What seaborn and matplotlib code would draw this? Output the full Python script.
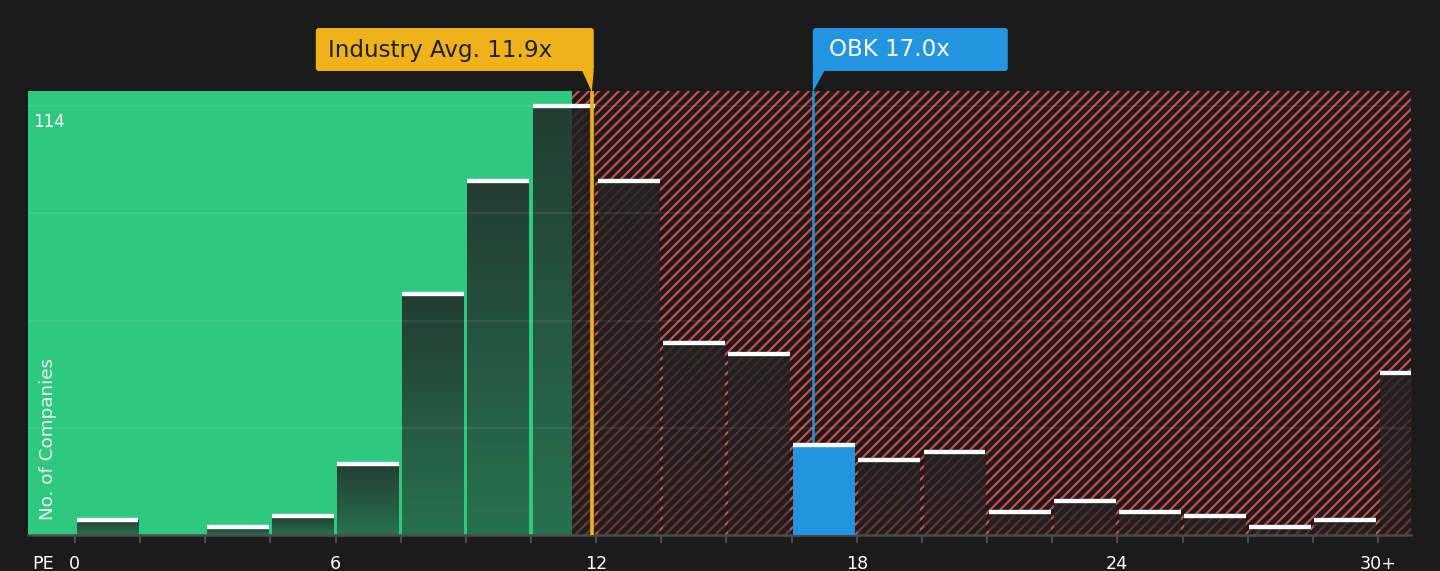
import numpy as np
import pandas as pd
import matplotlib
matplotlib.use("Agg")
import matplotlib.pyplot as plt
import seaborn as sns
from matplotlib.patches import FancyBboxPatch, Polygon
from matplotlib.transforms import IdentityTransform

# ---------------- data ----------------
bin_starts = [0, 1.5, 3, 4.5, 6, 7.5, 9, 10.5, 12, 13.5, 15, 16.5, 18, 19.5,
              21, 22.5, 24, 25.5, 27, 28.5, 30]
bin_edges = [0, 1.5, 3, 4.5, 6, 7.5, 9, 10.5, 12, 13.5, 15, 16.5, 18, 19.5,
             21, 22.5, 24, 25.5, 27, 28.5, 30, 31.5]
counts = [4, 0, 2, 5, 19, 64, 94, 114, 94, 51, 48, 24, 20, 22, 6, 9, 6, 5, 2, 4, 43]
tick_values = [0, 6, 12, 18, 24, 30]
tick_labels = ["0", "6", "12", "18", "24", "30+"]
industry_avg = 11.9
company_pe = 17.0
company_name = "OBK"
y_max_label = 114
green_end = 11.45

# ---------------- style ----------------
BG = "#1b1b1b"
GREEN = "#2ec880"
RED = "#d04b4b"
YELLOW = "#efb21a"
BLUE = "#2394e0"
W, H, DPI = 1440, 571, 120

sns.set_style("dark")
plt.rcParams["font.family"] = ["DejaVu Sans"]
plt.rcParams["hatch.linewidth"] = 1.3

fig = plt.figure(figsize=(W / DPI, H / DPI), dpi=DPI, facecolor=BG)
ax = fig.add_axes([28 / W, 36 / H, 1383 / W, 444 / H])
ax.set_facecolor(BG)
XL = (-1.08, 30.76)
YL = (0, 118)

# background zones
ax.axvspan(XL[0], green_end, facecolor=GREEN, lw=0, zorder=0)
ax.axvspan(green_end, XL[1], facecolor=BG, edgecolor=RED, hatch="////", lw=0, zorder=0)

# histogram bars
df = pd.DataFrame({"pe": [s + 0.75 for s in bin_starts], "count": counts})
n0 = len(ax.patches)
sns.histplot(data=df, x="pe", weights="count", bins=bin_edges, shrink=0.95,
             ax=ax, color="#222422", linewidth=0, alpha=1, zorder=2)
bars = ax.patches[n0:]

comp_idx = max(i for i, s in enumerate(bin_starts) if s <= company_pe)
grad = np.zeros((64, 1, 4))
grad[..., 0] = 0.13
grad[..., 1] = 0.137
grad[..., 2] = 0.13
grad[:, 0, 3] = np.linspace(0.84, 0.52, 64)

for i, (p, c) in enumerate(zip(bars, counts)):
    if c == 0:
        continue
    x, w, h = p.get_x(), p.get_width(), p.get_height()
    x_right = min(x + w, XL[1])
    if i == comp_idx:
        p.set_facecolor(BLUE)
        p.set_zorder(3)
    else:
        p.set_facecolor("none")
        im = ax.imshow(grad, extent=[x, x_right, 0, h], origin="upper",
                       aspect="auto", interpolation="bilinear", zorder=2)
        if x + w <= XL[1]:
            im.set_clip_path(p)
    ax.hlines(h, x, x_right, color="white", lw=2.6, zorder=4)

# grid
ax.set_yticks([y_max_label * f for f in (0.25, 0.5, 0.75, 1.0)])
ax.set_yticklabels([])
ax.tick_params(axis="y", length=0)
ax.set_axisbelow(False)
ax.yaxis.grid(True, color="white", alpha=0.09, lw=1)
ax.xaxis.grid(False)

# reference lines
ax.axvline(industry_avg, color=YELLOW, lw=2.2, zorder=5)
ax.axvline(company_pe, color=BLUE, lw=1.5, zorder=2.5)

ax.set_xlim(*XL)
ax.set_ylim(*YL)

# x axis
ax.set_xticks(tick_values)
ax.set_xticklabels(tick_labels)
ax.set_xticks([e for e in bin_edges if e <= XL[1]], minor=True)
ax.tick_params(axis="x", which="both", length=5, width=1.2, color="#4a4a4a",
               labelcolor="white", labelsize=10.5, pad=7, direction="out", bottom=True)
for s in ["top", "left", "right"]:
    ax.spines[s].set_visible(False)
ax.spines["bottom"].set_color("#4a4a4a")
ax.spines["bottom"].set_linewidth(1.5)
ax.set_xlabel("")
ax.set_ylabel("")

fig.text(32 / W, (H - 564) / H, "PE", color="white", fontsize=10.5,
         va="center", ha="left")

ax.annotate(str(y_max_label), xy=(0, y_max_label), xycoords=("axes fraction", "data"),
            xytext=(3, -4), textcoords="offset points", va="top", ha="left",
            color="white", fontsize=10)
ax.text(0.0145, 0.034, "No. of Companies", transform=ax.transAxes, rotation=90,
        ha="center", va="bottom", color="#eeeeee", fontsize=11)

# ---------------- callout boxes (pixel space) ----------------
fig.canvas.draw()
T = IdentityTransform()


def py(y_from_top):
    return H - y_from_top


ind_px = ax.transData.transform((industry_avg, 0))[0]
comp_px = ax.transData.transform((company_pe, 0))[0]

# Industry average box
r = ind_px + 2
l = r - 278
fig.add_artist(FancyBboxPatch((l, py(71)), r - l, 43, boxstyle="round,pad=0,rounding_size=3",
                              transform=T, facecolor=YELLOW, edgecolor="none", zorder=10))
fig.add_artist(Polygon([(r - 12, py(70)), (r, py(70)), (ind_px, py(92))], closed=True,
                       transform=T, facecolor=YELLOW, edgecolor="none", zorder=10))
fig.text((l + 12) / W, py(50) / H, f"Industry Avg. {industry_avg:.1f}x",
         color="#222222", fontsize=13.8, va="center", ha="left", zorder=11)

# Company box
l2 = comp_px - 0.5
r2 = l2 + 195
fig.add_artist(FancyBboxPatch((l2, py(71)), r2 - l2, 43, boxstyle="round,pad=0,rounding_size=3",
                              transform=T, facecolor=BLUE, edgecolor="none", zorder=10))
fig.add_artist(Polygon([(l2, py(70)), (l2 + 12, py(70)), (l2, py(92))], closed=True,
                       transform=T, facecolor=BLUE, edgecolor="none", zorder=10))
fig.text((l2 + 16) / W, py(50) / H, f"{company_name} {company_pe:.1f}x",
         color="white", fontsize=13.8, va="center", ha="left", zorder=11)

fig.savefig("out.png", dpi=DPI, facecolor=BG)
